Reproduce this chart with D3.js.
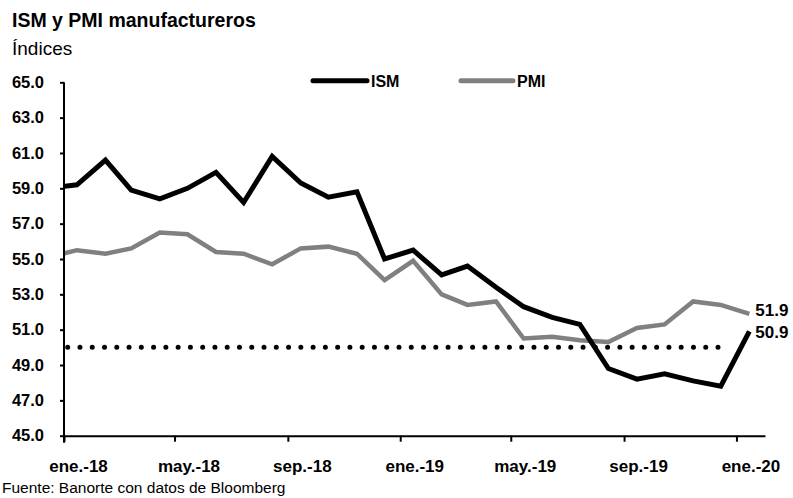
<!DOCTYPE html>
<html>
<head>
<meta charset="utf-8">
<script src="https://cdnjs.cloudflare.com/ajax/libs/d3/7.8.5/d3.min.js"></script>
<style>
  body { margin: 0; background: #fff; }
  text { font-family: "Liberation Sans", Arial, sans-serif; }
</style>
</head>
<body>
<script>
// meses (dato a mediados de mes); dic.-17 queda recortado por el eje
let months = ["2017-12", "2018-01", "2018-02", "2018-03", "2018-04", "2018-05", "2018-06",
  "2018-07", "2018-08", "2018-09", "2018-10", "2018-11", "2018-12",
  "2019-01", "2019-02", "2019-03", "2019-04", "2019-05", "2019-06",
  "2019-07", "2019-08", "2019-09", "2019-10", "2019-11", "2019-12", "2020-01"];
let ism = [59.0, 59.2, 60.6, 58.9, 58.4, 59.0, 59.9, 58.2, 60.8, 59.3, 58.5, 58.8, 55.0,
  55.5, 54.1, 54.6, 53.4, 52.3, 51.7, 51.3, 48.8, 48.2, 48.5, 48.1, 47.8, 50.9];
let pmi = [55.1, 55.5, 55.3, 55.6, 56.5, 56.4, 55.4, 55.3, 54.7, 55.6, 55.7, 55.3, 53.8,
  54.9, 53.0, 52.4, 52.6, 50.5, 50.6, 50.4, 50.3, 51.1, 51.3, 52.6, 52.4, 51.9];
let yTicks = [45, 47, 49, 51, 53, 55, 57, 59, 61, 63, 65];
let xTicks = ["2018-01", "2018-05", "2018-09", "2019-01", "2019-05", "2019-09", "2020-01"];
let mesesEs = ["ene.", "feb.", "mar.", "abr.", "may.", "jun.", "jul.", "ago.", "sep.", "oct.", "nov.", "dic."];
let umbral = 50;

let width = 793, height = 498;
let svg = d3.select('body')
  .append('svg')
  .attr('width', width)
  .attr('height', height);

let parseMonth = d3.timeParse("%Y-%m");
let midMonth = function (m) { return d3.timeDay.offset(parseMonth(m), 14); };

let x = d3.scaleTime()
  .domain([new Date(2018, 0, 1), new Date(2020, 1, 1)])
  .range([64, 765]);
let y = d3.scaleLinear()
  .domain([45, 65])
  .range([435.7, 82.3]);

// titulo
svg.append("text").attr("x", 12).attr("y", 27)
  .style("font-size", "19.5px").style("font-weight", "bold")
  .text("ISM y PMI manufactureros");
svg.append("text").attr("x", 12).attr("y", 55)
  .style("font-size", "19px")
  .text("Índices");
svg.append("text").attr("x", 2).attr("y", 493)
  .style("font-size", "15.5px")
  .text("Fuente: Banorte con datos de Bloomberg");

// eje y
let yAxis = svg.append("g")
  .attr("transform", "translate(" + x.range()[0] + ",0)")
  .call(d3.axisLeft(y).tickValues(yTicks).tickSize(4).tickSizeOuter(0)
    .tickFormat(d3.format(".1f")));
yAxis.select(".domain").attr("stroke", "#000").attr("stroke-width", 2)
  .attr("d", "M0," + y(65) + "V" + (y(45) + 7));
yAxis.selectAll(".tick line").attr("stroke", "#000").attr("stroke-width", 2);
yAxis.selectAll(".tick text")
  .attr("x", -20)
  .style("font-size", "16.5px").style("font-weight", "bold")
  .style("font-family", '"Liberation Sans", Arial, sans-serif')
  .attr("fill", "#000");

// eje x
let xAxis = svg.append("g")
  .attr("transform", "translate(0," + y(45) + ")")
  .call(d3.axisBottom(x).tickValues(xTicks.map(parseMonth)).tickSize(6).tickSizeOuter(0)
    .tickFormat(function (d) {
      return mesesEs[d.getMonth()] + "-" + d3.timeFormat("%y")(d);
    }));
xAxis.select(".domain").attr("stroke", "#000").attr("stroke-width", 2);
xAxis.selectAll(".tick line").attr("stroke", "#000").attr("stroke-width", 2);
xAxis.selectAll(".tick text")
  .attr("x", 14).attr("y", 36).attr("dy", null)
  .style("font-size", "17px").style("font-weight", "bold")
  .style("font-family", '"Liberation Sans", Arial, sans-serif')
  .attr("fill", "#000");

svg.append("clipPath")
  .attr("id", "clip")
  .append("rect")
  .attr("x", x.range()[0] + 1)
  .attr("y", 0)
  .attr("width", x.range()[1] - x.range()[0])
  .attr("height", height);

// linea punteada de 50
svg.append("line")
  .attr("x1", x.range()[0] + 3.7)
  .attr("x2", x(new Date(2020, 0, 1)) - 7)
  .attr("y1", y(umbral)).attr("y2", y(umbral))
  .attr("stroke", "#000")
  .attr("stroke-width", 5)
  .attr("stroke-linecap", "round")
  .attr("stroke-dasharray", "0 12.27");

let line = d3.line()
  .x(function (d, i) { return x(midMonth(months[i])); })
  .y(function (d) { return y(d); });

let g = svg.append("g").attr("clip-path", "url(#clip)");
g.append("path").datum(pmi)
  .attr("d", line)
  .attr("fill", "none")
  .attr("stroke", "#808080")
  .attr("stroke-width", 4.5)
  .attr("stroke-linejoin", "miter");
g.append("path").datum(ism)
  .attr("d", line)
  .attr("fill", "none")
  .attr("stroke", "#000")
  .attr("stroke-width", 5)
  .attr("stroke-linejoin", "miter");

// etiquetas finales
let last = months.length - 1;
svg.append("text")
  .attr("x", x(midMonth(months[last])) + 6)
  .attr("y", y(pmi[last]) - 4)
  .attr("dy", "0.35em")
  .style("font-size", "17px").style("font-weight", "bold")
  .text(pmi[last].toFixed(1));
svg.append("text")
  .attr("x", x(midMonth(months[last])) + 6)
  .attr("y", y(ism[last]) + 1)
  .attr("dy", "0.35em")
  .style("font-size", "17px").style("font-weight", "bold")
  .text(ism[last].toFixed(1));

// leyenda
let legend = [
  { name: "ISM", color: "#000", x1: 313, x2: 367 },
  { name: "PMI", color: "#808080", x1: 461, x2: 513 }
];
let lg = svg.append("g").selectAll("g").data(legend).enter().append("g");
lg.append("line")
  .attr("x1", function (d) { return d.x1; })
  .attr("x2", function (d) { return d.x2; })
  .attr("y1", 80.7).attr("y2", 80.7)
  .attr("stroke", function (d) { return d.color; })
  .attr("stroke-width", 5)
  .attr("stroke-linecap", "round");
lg.append("text")
  .attr("x", function (d) { return d.x2 + 4; })
  .attr("y", 86.5)
  .style("font-size", "16px").style("font-weight", "bold")
  .text(function (d) { return d.name; });
</script>
</body>
</html>
